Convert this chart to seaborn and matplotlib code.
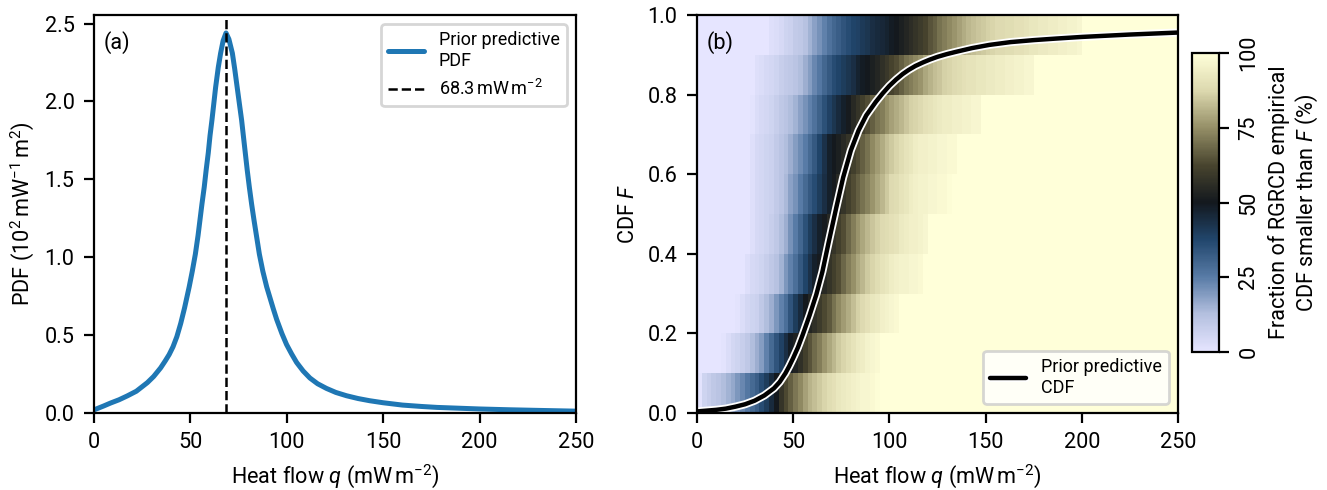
import numpy as np
import matplotlib
matplotlib.use("Agg")
import matplotlib.pyplot as plt
import matplotlib.patheffects as pe
from matplotlib.colors import LinearSegmentedColormap
import seaborn as sns

# prior predictive PDF; q in mW m^-2, PDF in 10^-2 (mW m^-2)^-1
q_pdf = [0, 5, 8.6, 13, 17.3, 22, 27.7, 31, 34.6, 37, 39, 41, 43, 45, 47, 49.4,
         51, 52.6, 54, 55.0, 56, 57.2, 58.2, 59.3, 60.2, 61.2, 62.2, 63.1, 64.5, 65.7,
         67, 68.5, 70, 71.8, 73, 74.3, 75.5, 76.6, 77.5, 78.5, 79.5, 80.6, 81.8, 83.0,
         84.4, 85.8, 87.6, 89.6, 91.3, 93, 94.8, 97.5, 99.9, 102.5, 105.1, 108.5, 112,
         116, 120.6, 125.5, 131, 137, 143, 150, 160, 170, 178, 189, 200, 215, 230, 250]
pdf_vals = [0.02, 0.045, 0.064, 0.085, 0.11, 0.14, 0.195, 0.235, 0.29, 0.335, 0.375,
            0.425, 0.49, 0.575, 0.675, 0.81, 0.91, 1.02, 1.14, 1.24, 1.34, 1.45, 1.56,
            1.67, 1.78, 1.88, 1.99, 2.09, 2.22, 2.31, 2.39, 2.44, 2.40, 2.31, 2.21, 2.09,
            1.98, 1.88, 1.78, 1.67, 1.56, 1.45, 1.34, 1.24, 1.13, 1.02, 0.91, 0.81, 0.74,
            0.67, 0.60, 0.51, 0.44, 0.38, 0.325, 0.27, 0.225, 0.188, 0.158, 0.132, 0.111,
            0.093, 0.079, 0.066, 0.051, 0.042, 0.036, 0.031, 0.026, 0.021, 0.017, 0.012]
mode_q = 68.3

# prior predictive CDF
q_cdf = [0, 10, 15, 20, 25, 30, 35, 40, 43, 46, 48, 50, 52.5, 55, 58.5, 62, 65.2,
         68.5, 72.5, 76, 80, 84, 88, 93, 96.5, 100, 103.5, 107, 110, 113.5, 117.5,
         121, 125, 130, 135, 143, 152, 163, 175, 187, 200, 225, 250]
cdf_vals = [0.004, 0.008, 0.011, 0.016, 0.022, 0.031, 0.044, 0.062, 0.078, 0.1, 0.118,
            0.138, 0.165, 0.197, 0.245, 0.297, 0.355, 0.43, 0.518, 0.592, 0.66, 0.71,
            0.748, 0.782, 0.803, 0.822, 0.838, 0.852, 0.862, 0.872, 0.881, 0.888, 0.895,
            0.902, 0.908, 0.917, 0.925, 0.932, 0.937, 0.941, 0.945, 0.951, 0.956]

# fraction (%) of RGRCD empirical CDFs below F, one row per F bin (0-0.1 ... 0.9-1.0).
# each row: 0 % before ramp_start, the ramp in 2.5 mW m^-2 steps, 100 % after it
q_bin = 2.5
q_max = 250
ramp_start = [0.0, 12.5, 20.0, 25.0, 27.5, 27.5, 27.5, 27.5, 30.0, 37.5]
ramp_f0 = [1, 6, 8, 10, 11, 13, 15, 17, 20, 23, 26, 29, 32, 36, 40, 45, 50, 58, 63, 67,
           71, 74, 78, 81, 83, 85, 87, 89, 90, 92, 93, 94, 95, 96, 97, 97, 98, 99]
ramp_f1 = [1, 3, 5, 6, 8, 10, 13, 16, 19, 24, 29, 34, 39, 44, 49, 53, 57, 61, 65, 69,
           72, 76, 79, 82, 85, 87, 89, 91, 93, 94, 96, 97, 98]
ramp_f2 = [1, 3, 5, 6, 7, 10, 13, 16, 20, 24, 28, 34, 40, 45, 50, 54, 57, 60, 63, 66,
           70, 74, 77, 80, 83, 86, 88, 90, 92, 93, 95, 96, 97, 98]
ramp_f3 = [2, 4, 5, 6, 8, 10, 12, 15, 20, 24, 28, 33, 38, 43, 48, 51, 55, 58, 61, 64,
           68, 72, 75, 79, 82, 85, 87, 89, 91, 92, 94, 95, 96, 96, 97, 97, 98]
ramp_f4 = [2, 4, 5, 6, 8, 10, 13, 16, 21, 25, 30, 35, 40, 44, 48, 51, 55, 58, 61, 64,
           68, 72, 76, 79, 82, 84, 86, 88, 89, 90, 91, 93, 94, 95, 95, 96, 97]
ramp_f5 = [2, 4, 5, 6, 7, 9, 11, 14, 18, 21, 25, 29, 33, 36, 40, 44, 48, 51, 55, 58,
           61, 64, 67, 70, 73, 76, 79, 82, 85, 88, 89, 91, 92, 94, 95, 96, 96, 97, 97,
           98, 98, 99]
ramp_f6 = [2, 4, 5, 6, 7, 9, 11, 13, 16, 19, 22, 25, 29, 33, 38, 43, 48, 50, 52, 55,
           58, 61, 64, 67, 70, 74, 77, 80, 83, 85, 87, 89, 91, 92, 94, 95, 95, 96, 96,
           97, 97, 98, 98]
ramp_f7 = [1, 3, 4, 5, 6, 8, 10, 11, 13, 15, 18, 21, 24, 27, 31, 35, 39, 42, 45, 48,
           51, 55, 58, 61, 64, 67, 70, 72, 75, 78, 80, 82, 84, 86, 87, 88, 90, 91, 92,
           93, 94, 94, 95, 95, 96, 96, 97, 97]
ramp_f8 = [2, 3, 4, 5, 6, 8, 9, 10, 11, 13, 16, 19, 23, 26, 30, 33, 36, 38, 40, 42,
           44, 47, 49, 50, 52, 54, 57, 59, 62, 64, 67, 70, 72, 74, 76, 79, 81, 83, 84,
           86, 87, 88, 89, 90, 91, 91, 92, 92, 93, 93, 94, 94, 95, 95, 96, 96, 97, 97]
ramp_f9 = [2, 3, 4, 6, 7, 9, 10, 12, 15, 18, 21, 24, 27, 30, 32, 34, 36, 38, 39, 41,
           42, 44, 45, 46, 47, 49, 50, 52, 54, 56, 58, 60, 62, 65, 67, 70, 72, 74, 76,
           78, 80, 82, 83, 84, 85, 86, 87, 88, 88, 89, 89, 90, 90, 91, 92, 92, 93, 93,
           94, 94, 95, 95, 96, 96, 97]
ramps = [ramp_f0, ramp_f1, ramp_f2, ramp_f3, ramp_f4,
         ramp_f5, ramp_f6, ramp_f7, ramp_f8, ramp_f9]

# lisbon-like diverging map: lavender -> blue -> black -> khaki -> pale yellow
lisbon_colors = [(230, 229, 255), (180, 192, 223), (88, 123, 166), (33, 70, 108),
                 (19, 24, 30), (72, 68, 46), (148, 142, 102), (220, 216, 174),
                 (255, 255, 217)]
cmap = LinearSegmentedColormap.from_list(
    "lisbon", [tuple(c / 255 for c in rgb) for rgb in lisbon_colors])

sns.set_style("ticks", {"axes.edgecolor": "black", "xtick.color": "black",
                        "ytick.color": "black", "text.color": "black",
                        "axes.labelcolor": "black"})
plt.rcParams["font.family"] = ["Roboto", "DejaVu Sans"]
plt.rcParams["font.size"] = 7.8
plt.rcParams["legend.fontsize"] = 6.5
plt.rcParams["mathtext.fontset"] = "custom"
plt.rcParams["mathtext.rm"] = "Roboto"
plt.rcParams["mathtext.it"] = "Roboto:italic"
plt.rcParams["mathtext.bf"] = "Roboto:bold"
plt.rcParams["axes.linewidth"] = 0.8
plt.rcParams["axes.labelpad"] = 3.0
plt.rcParams["xtick.major.width"] = 0.8
plt.rcParams["ytick.major.width"] = 0.8

fig = plt.figure(figsize=(6.635, 2.45), dpi=200)
ax1 = fig.add_axes([0.0708, 0.1571, 0.3632, 0.8122])
ax2 = fig.add_axes([0.5252, 0.1571, 0.3625, 0.8122])
cax = fig.add_axes([0.8983, 0.2816, 0.0203, 0.610])

xlabel = r"Heat flow $q$ (mW$\,$m$^{-2}$)"

# (a) PDF
sns.lineplot(x=q_pdf, y=pdf_vals, ax=ax1, color="#1f77b4", lw=1.8,
             label="Prior predictive\nPDF")
ax1.axvline(mode_q, color="black", ls="--", lw=0.9,
            label=f"{mode_q}" + r"$\,$mW$\,$m$^{-2}$")
ax1.set_xlim(0, 250)
ax1.set_ylim(0, 2.555)
ax1.set_xlabel(xlabel)
ax1.set_ylabel(r"PDF ($10^2\,$mW$^{-1}\,$m$^2$)")
ax1.legend(loc="upper right")
ax1.text(0.02, 0.96, "(a)", transform=ax1.transAxes, va="top", ha="left")

# (b) heatmap of empirical CDF fractions + prior predictive CDF
n_q = int(q_max / q_bin)
frac = np.full((len(ramps), n_q), 100.0)
for i, (start, ramp) in enumerate(zip(ramp_start, ramps)):
    j0 = int(round(start / q_bin))
    frac[i, :j0] = 0.0
    frac[i, j0:j0 + len(ramp)] = ramp
q_edges = np.linspace(0, q_max, n_q + 1)
f_edges = np.linspace(0, 1, len(ramps) + 1)
mesh = ax2.pcolormesh(q_edges, f_edges, frac, cmap=cmap, vmin=0, vmax=100)

sns.lineplot(x=q_cdf, y=cdf_vals, ax=ax2, color="black", lw=1.6,
             label="Prior predictive\nCDF",
             path_effects=[pe.Stroke(linewidth=2.9, foreground="white"), pe.Normal()])
ax2.set_xlim(0, 250)
ax2.set_ylim(0, 1)
ax2.set_xlabel(xlabel)
ax2.set_ylabel(r"CDF $F$")
ax2.legend(loc="lower right")
ax2.text(0.02, 0.96, "(b)", transform=ax2.transAxes, va="top", ha="left")

cb = fig.colorbar(mesh, cax=cax, ticks=[0, 25, 50, 75, 100])
cb.outline.set_linewidth(0.8)
for lab in cb.ax.get_yticklabels():
    lab.set_rotation(90)
    lab.set_va("center")
cb.set_label("Fraction of RGRCD empirical\nCDF smaller than $F$ (%)")

fig.savefig("out.png", dpi=200)
